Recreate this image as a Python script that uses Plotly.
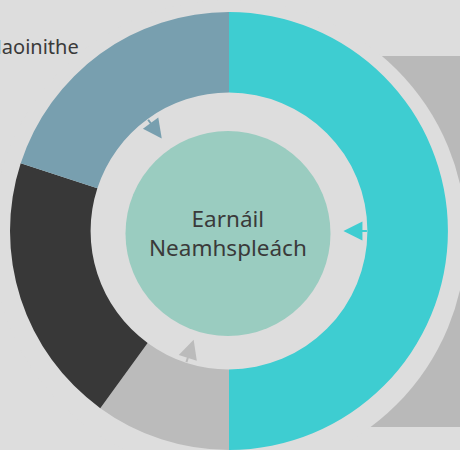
import math
import plotly.graph_objects as go

# ---- data ----
segment_labels = ["Cuid A", "Cuid B", "Cuid C", "Cuid D"]
segment_values = [50, 10, 20, 20]
segment_has_arrow = [True, True, False, True]
center_label = "Earnáil<br>Neamhspleách"
side_label = "Earnáil Maoinithe"

# ---- style ----
W, H = 460, 450
BG = "#DDDDDD"
colors = ["#3ECDD1", "#BBBBBB", "#383838", "#789FAF"]
TEXT = "#3A3A3A"
FONT = "Noto Sans"

CX, CY = 229, 231          # pie centre (px from top-left)
R_OUT = 219
HOLE = 0.632
R_IN = R_OUT * HOLE


def px(x):
    return x / W


def py(y):
    return 1 - y / H


fig = go.Figure()
fig.add_trace(go.Pie(
    labels=segment_labels, values=segment_values, sort=False,
    direction="clockwise", rotation=0, hole=HOLE,
    marker=dict(colors=colors, line=dict(width=0)),
    textinfo="none", hoverinfo="label+percent", showlegend=False,
    domain=dict(x=[px(CX - R_OUT), px(CX + R_OUT)], y=[py(CY + R_OUT), py(CY - R_OUT)]),
))

shapes = [
    # grey panel behind
    dict(type="rect", xref="paper", yref="paper", layer="below",
         x0=px(300), x1=px(480), y0=py(427), y1=py(56),
         fillcolor="#B9B9B9", line=dict(width=0)),
    # halo around donut
    dict(type="circle", xref="paper", yref="paper", layer="below",
         x0=px(229 - 237), x1=px(229 + 237), y0=py(237 + 237), y1=py(237 - 237),
         fillcolor=BG, line=dict(width=0)),
    # centre disc
    dict(type="circle", xref="paper", yref="paper", layer="above",
         x0=px(228 - 102.5), x1=px(228 + 102.5), y0=py(233.5 + 102.5), y1=py(233.5 - 102.5),
         fillcolor="#9ACCC0", line=dict(width=0)),
]

annotations = [
    dict(text=center_label, x=px(228), y=py(232.5), xref="paper", yref="paper",
         showarrow=False, font=dict(family=FONT, size=22.5, color=TEXT),
         xanchor="center", yanchor="middle"),
    dict(text=side_label, x=px(81), y=py(46), xref="paper", yref="paper",
         showarrow=False, font=dict(family=FONT, size=20, color=TEXT),
         xanchor="right", yanchor="middle"),
]

total = sum(segment_values)
cum = 0
for v, c, has in zip(segment_values, colors, segment_has_arrow):
    mid = (cum + v / 2) / total * 2 * math.pi
    cum += v
    if not has:
        continue
    ux, uy = math.sin(mid), -math.cos(mid)
    sx, sy = CX + ux * (R_IN + 1), CY + uy * (R_IN + 1)
    tx, ty = CX + ux * (R_IN - 24), CY + uy * (R_IN - 24)
    annotations.append(dict(
        text="", x=px(tx), y=py(ty), xref="paper", yref="paper",
        ax=sx - tx, ay=sy - ty, showarrow=True,
        arrowhead=2, arrowsize=1.9, arrowwidth=2, arrowcolor=c, standoff=0,
    ))

fig.update_layout(
    width=W, height=H, margin=dict(l=0, r=0, t=0, b=0),
    paper_bgcolor=BG, plot_bgcolor=BG,
    shapes=shapes, annotations=annotations, showlegend=False,
)
fig.write_html(
    "out.html",
    config={"displayModeBar": False},
    post_script="document.body.style.margin='0';document.body.style.background='%s';" % BG,
)
